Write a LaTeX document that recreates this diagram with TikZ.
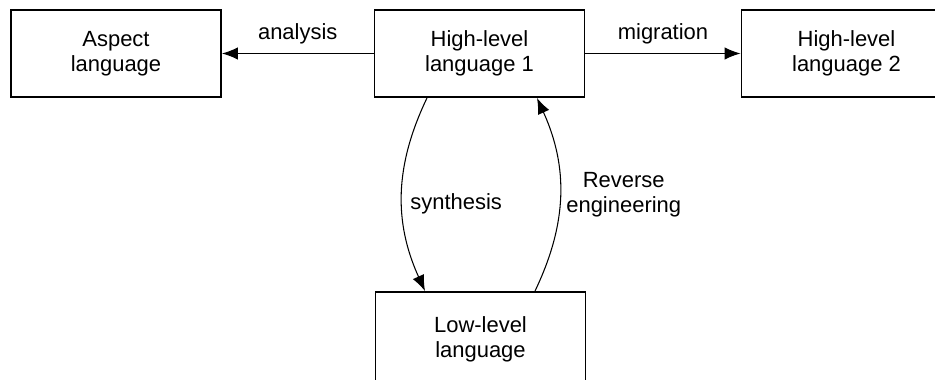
\documentclass[tikz,border=0pt]{standalone}
\usepackage{fontspec}
\setmainfont{Liberation Sans}
\usetikzlibrary{arrows.meta}

\begin{document}
\begin{tikzpicture}[
    lang/.style={draw, line width=1.1pt, minimum width=4.2cm, minimum height=1.74cm, align=center,
      font=\fontsize{12.5}{14.5}\selectfont},
    flow/.style={line width=0.6pt, -{Latex[length=9pt,width=7pt]}},
    lbl/.style={font=\fontsize{12.5}{14.5}\selectfont, align=center}]
        \useasboundingbox (0, 0) rectangle (18.7, -7.6);
        \clip (0, 0) rectangle (18.7, -7.6);

        \node[lang] (A) at (2.32, -1.07) {Aspect\\language};
        \node[lang] (H1) at (9.59, -1.07) {High-level\\language 1};
        \node[lang] (H2) at (16.93, -1.07) {High-level\\language 2};
        % the lower box runs past the bottom edge
        \node[lang, minimum height=1.9cm] (L) at (9.61, -6.79) {Low-level\\language};

        \draw[flow] (H1) to node [lbl, above=2pt] {analysis} (A);
        \draw[flow] (H1) to node [lbl, above=2pt] {migration} (H2);

        \draw[flow] ([xshift=-1.05cm]H1.south) to [bend right=25]
            node [lbl, right=1pt, pos=0.55] {synthesis} ([xshift=-1.11cm]L.north);
        \draw[flow] ([xshift=1.09cm]L.north) to [bend right=25]
            node [lbl, right=0pt] {Reverse\\engineering} ([xshift=1.15cm]H1.south);
      \end{tikzpicture}
\end{document}
